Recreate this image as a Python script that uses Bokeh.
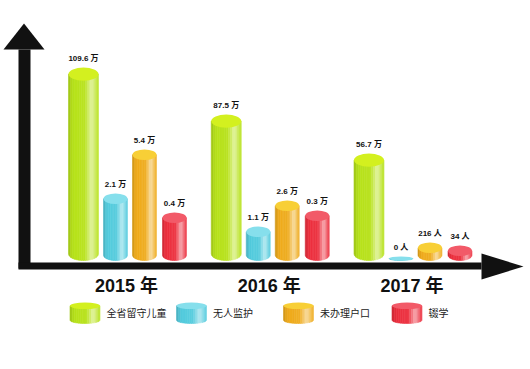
import numpy as np
from bokeh.plotting import figure
from bokeh.models import Range1d, ColumnDataSource
from bokeh.core.properties import value
from bokeh.embed import file_html
from bokeh.resources import INLINE

# ---------------- data ----------------
years = ["2015 年", "2016 年", "2017 年"]
series = ["全省留守儿童", "无人监护", "未办理户口", "辍学"]

# printed values on top of each cylinder
left_behind_labels = ["109.6 万", "87.5 万", "56.7 万"]
unsupervised_labels = ["2.1 万", "1.1 万", "0 人"]
unregistered_labels = ["5.4 万", "2.6 万", "216 人"]
dropout_labels = ["0.4 万", "0.3 万", "34 人"]

# drawn cylinder heights (the infographic is not to scale), px
left_behind_heights = [193, 146, 107]
unsupervised_heights = [67, 34, 4]
unregistered_heights = [111, 60, 18]
dropout_heights = [48, 50, 15]

series_labels = [left_behind_labels, unsupervised_labels, unregistered_labels, dropout_labels]
series_heights = [left_behind_heights, unsupervised_heights, unregistered_heights, dropout_heights]

# ---------------- style ----------------
body_colors = ["#b7e21a", "#53cbdd", "#efab1c", "#ec2f3e"]
top_colors = ["#d3f01f", "#86dfec", "#f8cf36", "#f25a68"]
bar_widths = [30, 24, 24, 24]
series_offsets = [0, 32, 61, 91]
group_first = 83
group_step = 142.75
FONT = value("Liberation Sans, Noto Sans CJK SC, sans-serif")
INK = "#111111"


def hex2rgb(h):
    h = h.lstrip("#")
    return np.array([int(h[i:i + 2], 16) for i in (0, 2, 4)], dtype=float)


def rgb2hex(c):
    c = np.clip(np.round(c), 0, 255).astype(int)
    return "#%02x%02x%02x" % tuple(c)


prof_t = [0.0, 0.08, 0.2, 0.55, 0.68, 0.78, 0.88, 1.0]
prof_v = [-0.16, -0.05, 0.0, 0.04, 0.35, 0.6, 0.35, 0.05]


def shade(base, t):
    c = hex2rgb(base)
    f = float(np.interp(t, prof_t, prof_v))
    if f >= 0:
        return rgb2hex(c + (255 - c) * f)
    return rgb2hex(c * (1 + f))


strip_xs, strip_ys, strip_cols = [], [], []
top_x, top_y, top_w, top_h, top_c = [], [], [], [], []


def cylinder(cx, w, h, base, color, tcolor, ryf=0.22, n=14):
    rx = w / 2.0
    ry = min(ryf * w, h / 2.0)
    ytop = base + h - ry
    for k in range(n):
        xa = cx - rx + k * w / n
        xb = xa + w / n
        t = (k + 0.5) / n
        xx = np.linspace(xb, xa, 5)
        u = (xx - cx) / rx
        yb = base + ry - ry * np.sqrt(np.clip(1 - u ** 2, 0, 1))
        strip_xs.append([xa, xb] + list(xx))
        strip_ys.append([ytop, ytop] + list(yb))
        strip_cols.append(shade(color, t))
    top_x.append(cx)
    top_y.append(ytop)
    top_w.append(w)
    top_h.append(2 * ry)
    top_c.append(tcolor)


lab_x, lab_y, lab_t = [], [], []
for s in range(len(series)):
    for g in range(len(years)):
        cx = group_first + g * group_step + series_offsets[s]
        h = series_heights[s][g]
        cylinder(cx, bar_widths[s], h, 0, body_colors[s], top_colors[s])
        lab_x.append(cx)
        lab_y.append(h + 9)
        lab_t.append(series_labels[s][g])

# legend icons (short cylinders)
leg_icon_x = [84.5, 191, 298, 406.5]
leg_base = -63
for s in range(len(series)):
    cylinder(leg_icon_x[s], 30, 21, leg_base, body_colors[s], top_colors[s], ryf=0.11)

# ---------------- figure ----------------
p = figure(width=530, height=369, x_range=Range1d(0, 530), y_range=Range1d(-109, 260),
           output_backend="svg", toolbar_location=None, min_border=0,
           x_axis_location=None, y_axis_location=None)
p.grid.visible = False
p.outline_line_color = None
p.background_fill_color = "white"

p.patches(xs="xs", ys="ys", fill_color="c", line_color="c", line_width=0.6,
          source=ColumnDataSource(dict(xs=strip_xs, ys=strip_ys, c=strip_cols)))
p.ellipse(x="x", y="y", width="w", height="h", fill_color="c", line_color=None,
          source=ColumnDataSource(dict(x=top_x, y=top_y, w=top_w, h=top_h, c=top_c)))

# value labels
p.text(x=lab_x, y=lab_y, text=lab_t, text_font=FONT, text_font_size="8px",
       text_font_style="bold", text_align="center", text_baseline="middle",
       text_color=INK)

# axes arrows
p.quad(left=[18, 18], right=[30, 481], bottom=[-8, -9], top=[211, -2],
       fill_color=INK, line_color=None)
p.patches(xs=[[3, 44, 23.5], [481, 481, 523]], ys=[[211, 211, 237], [7, -19, -6]],
          fill_color=INK, line_color=None)

# year labels
year_x = [group_first + g * group_step + 43 for g in range(len(years))]
p.text(x=year_x, y=[-25] * 3, text=years, text_font=FONT, text_font_size="18px",
       text_font_style="bold", text_align="center", text_baseline="middle",
       text_color=INK)

# legend text
p.text(x=[x + 21.5 for x in leg_icon_x], y=[-53] * 4, text=series, text_font=FONT,
       text_font_size="10px", text_align="left", text_baseline="middle",
       text_color="#222222")

open("out.html", "w").write(file_html(p, INLINE))
